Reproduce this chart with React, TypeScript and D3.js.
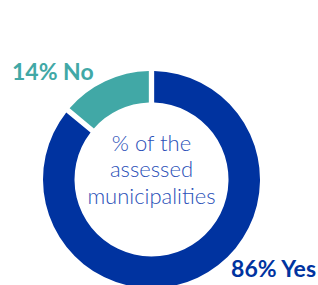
import React from 'react';
import * as d3 from 'd3';

const categories = ['Yes', 'No'];
const values = [86, 14];
const colors = ['#0033a0', '#41a8a6'];
const centerLines = ['% of the', 'assessed', 'municipalities'];

const App = () => {
    const [width, height] = [318, 285];
    const [cx, cy] = [151.5, 179.5];
    const [outerR, innerR] = [108.5, 77];

    const pie = d3.pie<number>().sort(null).value((d) => d);
    const arcs = pie(values);
    const arc = d3.arc<d3.PieArcDatum<number>>()
        .innerRadius(innerR)
        .outerRadius(outerR)
        .padAngle(0.04);

    return (
        <svg width={width} height={height} style={{ position: 'absolute', left: 0, top: 0 }}
            fontFamily="Lato, 'Open Sans', sans-serif">
            <g transform={`translate(${cx},${cy})`}>
                {arcs.map((a, i) => (
                    <path key={categories[i]} d={arc(a) || ''} fill={colors[i]} />
                ))}
                {centerLines.map((t, i) => (
                    <text key={t} x={0} y={-29 + i * 26.5} textAnchor="middle"
                        fontSize={22} fontWeight={300} fill="#2a50b8">{t}</text>
                ))}
            </g>
            {/* labels */}
            <text x={12} y={80} fontSize={23} fontWeight={700} fill={colors[1]}>
                {`${values[1]}% ${categories[1]}`}
            </text>
            <text x={316} y={277} textAnchor="end" fontSize={23} fontWeight={700} fill={colors[0]}>
                {`${values[0]}% ${categories[0]}`}
            </text>
        </svg>
    );
};

export default App;
